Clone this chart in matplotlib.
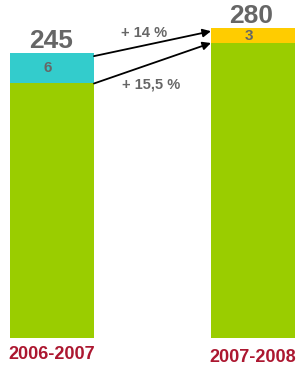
import matplotlib.pyplot as plt

plt.rcParams['font.family'] = ['Liberation Sans', 'DejaVu Sans']

seasons = ["2006-2007", "2007-2008"]
totals = [245, 280]
extra = [6, 3]
growth_labels = ["+ 14 %", "+ 15,5 %"]

base = [t - e for t, e in zip(totals, extra)]
# the small top segments are drawn magnified, as in the original slide
mag = 4.7
extra_h = [e * mag for e in extra]

green = "#9ACD00"
top_colors = ["#33CCCC", "#FFCC00"]
grey = "#666666"
red = "#AC1730"

fig = plt.figure(figsize=(2.99, 3.67), dpi=100)
ax = fig.add_axes([0, 29 / 367, 1, 338 / 367])

x = [0, 1]
w = 0.418
ax.bar(x, base, width=w, color=green, linewidth=0)
ax.bar(x, extra_h, bottom=base, width=w, color=top_colors, linewidth=0)

for i in range(2):
    top = base[i] + extra_h[i]
    ax.annotate(str(totals[i]), (x[i], top), xytext=(-1, 3.6), textcoords="offset points",
                ha="center", va="baseline", fontsize=19, fontweight="bold", color=grey)
    ax.annotate(str(extra[i]), (x[i], base[i] + extra_h[i] / 2), xytext=(-3, 0),
                textcoords="offset points", ha="center", va="center",
                fontsize=11, fontweight="bold", color=grey)
    ax.annotate(seasons[i], (x[i], 0), xytext=(0, -12.2 - 1.8 * i), textcoords="offset points",
                ha="center", va="center", fontsize=13, fontweight="bold", color=red,
                annotation_clip=False)

# arrows between the bars
arrow = dict(arrowstyle="-|>", color="black", lw=1.3, mutation_scale=12, shrinkA=0, shrinkB=0)
ax.annotate("", xy=(x[1] - w / 2, base[1] + extra_h[1] - 3), xytext=(x[0] + w / 2, base[0] + extra_h[0] - 2.5),
            arrowprops=arrow)
ax.annotate("", xy=(x[1] - w / 2, base[1]), xytext=(x[0] + w / 2, base[0]), arrowprops=arrow)

ax.text(0.483, 0.902, growth_labels[0], transform=ax.transAxes, ha="center", va="center",
        fontsize=10.5, fontweight="bold", color=grey)
ax.text(0.507, 0.749, growth_labels[1], transform=ax.transAxes, ha="center", va="center",
        fontsize=10.5, fontweight="bold", color=grey)

ax.set_xlim(-0.2587, 1.229)
ax.set_ylim(0, 317.4)
ax.axis("off")

plt.savefig("out.png", dpi=100)
